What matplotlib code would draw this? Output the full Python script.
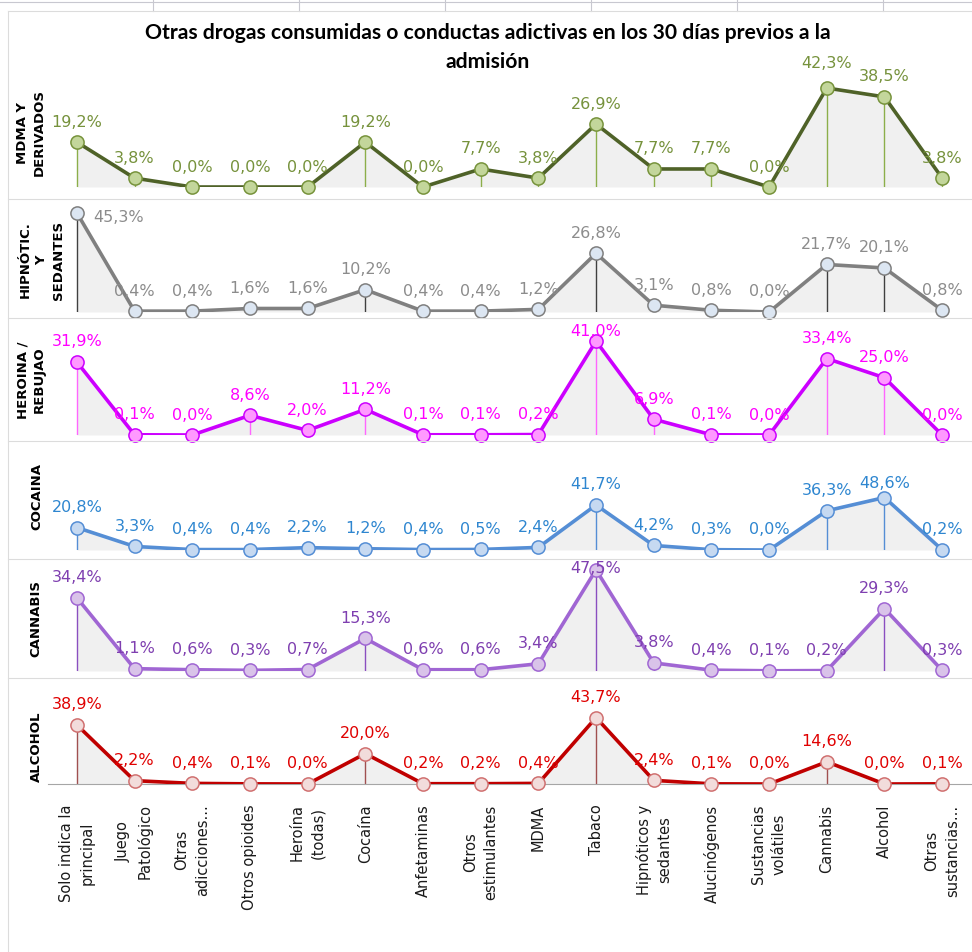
import matplotlib
matplotlib.use("Agg")
import matplotlib.pyplot as plt
from matplotlib.lines import Line2D

# categorias del eje x
categorias = ["Solo indica la\nprincipal", "Juego\nPatológico", "Otras\nadicciones...",
              "Otros opioides", "Heroína\n(todas)", "Cocaína", "Anfetaminas",
              "Otros\nestimulantes", "MDMA", "Tabaco", "Hipnóticos y\nsedantes",
              "Alucinógenos", "Sustancias\nvolátiles", "Cannabis", "Alcohol",
              "Otras\nsustancias..."]

# % por droga principal
mdma = [19.2, 3.8, 0.0, 0.0, 0.0, 19.2, 0.0, 7.7, 3.8, 26.9, 7.7, 7.7, 0.0, 42.3, 38.5, 3.8]
hipnoticos = [45.3, 0.4, 0.4, 1.6, 1.6, 10.2, 0.4, 0.4, 1.2, 26.8, 3.1, 0.8, 0.0, 21.7, 20.1, 0.8]
heroina = [31.9, 0.1, 0.0, 8.6, 2.0, 11.2, 0.1, 0.1, 0.2, 41.0, 6.9, 0.1, 0.0, 33.4, 25.0, 0.0]
cocaina = [20.8, 3.3, 0.4, 0.4, 2.2, 1.2, 0.4, 0.5, 2.4, 41.7, 4.2, 0.3, 0.0, 36.3, 48.6, 0.2]
cannabis = [34.4, 1.1, 0.6, 0.3, 0.7, 15.3, 0.6, 0.6, 3.4, 47.5, 3.8, 0.4, 0.1, 0.2, 29.3, 0.3]
alcohol = [38.9, 2.2, 0.4, 0.1, 0.0, 20.0, 0.2, 0.2, 0.4, 43.7, 2.4, 0.1, 0.0, 14.6, 0.0, 0.1]

titulo = ["Otras drogas consumidas o conductas adictivas en los 30 días previos a la",
          "admisión"]

W, H = 972, 953

# (nombre, datos, base_px, px_por_%, linea, relleno_marcador, borde_marcador, gota, etiqueta, x, y)
paneles = [
    ("MDMA Y\nDERIVADOS", mdma, 188, 2.34, "#4f6228", "#c3d69b", "#77933c", "#8cae4a", "#76923c", 31, 133),
    ("HIPNÓTIC.\nY\nSEDANTES", hipnoticos, 313, 2.19, "#808080", "#dce6f2", "#7f7f7f", "#404040", "#8c8c8c", 42, 260),
    ("HEROINA /\nREBUJAO", heroina, 436, 2.29, "#cc00ff", "#ff99ff", "#cc00ff", "#ff66ff", "#ff00ff", 31, 380),
    ("COCAINA", cocaina, 551, 1.08, "#558ed5", "#c6d9f1", "#558ed5", "#558ed5", "#2e86d0", 37, 497),
    ("CANNABIS", cannabis, 672, 2.13, "#a066d3", "#d9c3e9", "#a066d3", "#8a4fc0", "#7f3fb0", 36, 619),
    ("ALCOHOL", alcohol, 785, 1.52, "#c00000", "#f2dcdb", "#d07070", "#a05050", "#e00000", 36, 747),
]

# desplazamientos especiales de etiquetas (px)
ajustes = {(0, 13): (0, 26), (1, 0): (42, -4), (2, 9): (0, 11), (3, 14): (0, 15), (4, 9): (0, 2)}

fig = plt.figure(figsize=(W / 100, H / 100), dpi=100)
fig.patch.set_facecolor("white")

def fy(px):
    return 1 - px / H

# bordes de celdas de la hoja y de los graficos
gris = "#dcdcdc"
fig.add_artist(Line2D([0, 1], [fy(3), fy(3)], color="#c8c8d0", lw=0.8))
for xv in [153, 299, 445, 591, 737, 883]:
    fig.add_artist(Line2D([xv / W, xv / W], [fy(0), fy(12)], color="#c8c8d0", lw=0.8))
fig.add_artist(Line2D([8 / W, 1], [fy(12), fy(12)], color=gris, lw=0.8))
fig.add_artist(Line2D([8 / W, 8 / W], [fy(12), 0], color=gris, lw=0.8))
for yv in [200, 319, 442, 560, 679]:
    fig.add_artist(Line2D([8 / W, 1], [fy(yv), fy(yv)], color=gris, lw=0.8))

for k, linea in enumerate(titulo):
    fig.text(488 / W, fy(33 + 29 * k), linea, ha="center", va="center", fontsize=15.2,
             fontweight="bold", family="Lato")

x = list(range(len(categorias)))
altura = 100
for i, (nombre, datos, base, esc, c_lin, c_fill, c_edge, c_gota, c_lab, lx, ly) in enumerate(paneles):
    ax = fig.add_axes([48 / W, fy(base), (971 - 48) / W, altura / H])
    ax.set_xlim(-0.5, 15.5)
    ax.set_ylim(0, altura / esc)
    ax.patch.set_alpha(0)
    for s in ax.spines.values():
        s.set_visible(False)
    ax.fill_between(x, 0, datos, color="#f0f0f0", lw=0, zorder=1)
    ax.vlines(x, 0, datos, color=c_gota, lw=1, zorder=2)
    ax.plot(x, datos, color=c_lin, lw=2.6, zorder=3, solid_joinstyle="round")
    ax.plot(x, datos, ls="none", marker="o", ms=9.5, mfc=c_fill, mec=c_edge,
            mew=1.1, zorder=4, clip_on=False)
    for j, v in enumerate(datos):
        dx, dy = ajustes.get((i, j), (0, 21))
        ax.annotate(f"{v:.1f}%".replace(".", ","), (j, v), xytext=(dx * 0.72, dy * 0.72),
                    textcoords="offset points", ha="center", va="center",
                    fontsize=11.5, color=c_lab, zorder=5, annotation_clip=False)
    ax.set_yticks([])
    if i == len(paneles) - 1:
        ax.spines["bottom"].set_visible(True)
        ax.spines["bottom"].set_color("#a6a6a6")
        ax.set_xticks(x)
        ax.set_xticklabels(categorias, rotation=90, va="top", ha="center",
                           multialignment="center", fontsize=10.5, color="#1a1a1a",
                           linespacing=1.45)
        ax.tick_params(axis="x", length=0, pad=14)
    else:
        ax.set_xticks([])
    fig.text(lx / W, fy(ly), nombre, rotation=90, ha="center", va="center",
             fontsize=9.5, fontweight="bold", linespacing=1.35, color="black")

fig.savefig("out.png", dpi=100)
